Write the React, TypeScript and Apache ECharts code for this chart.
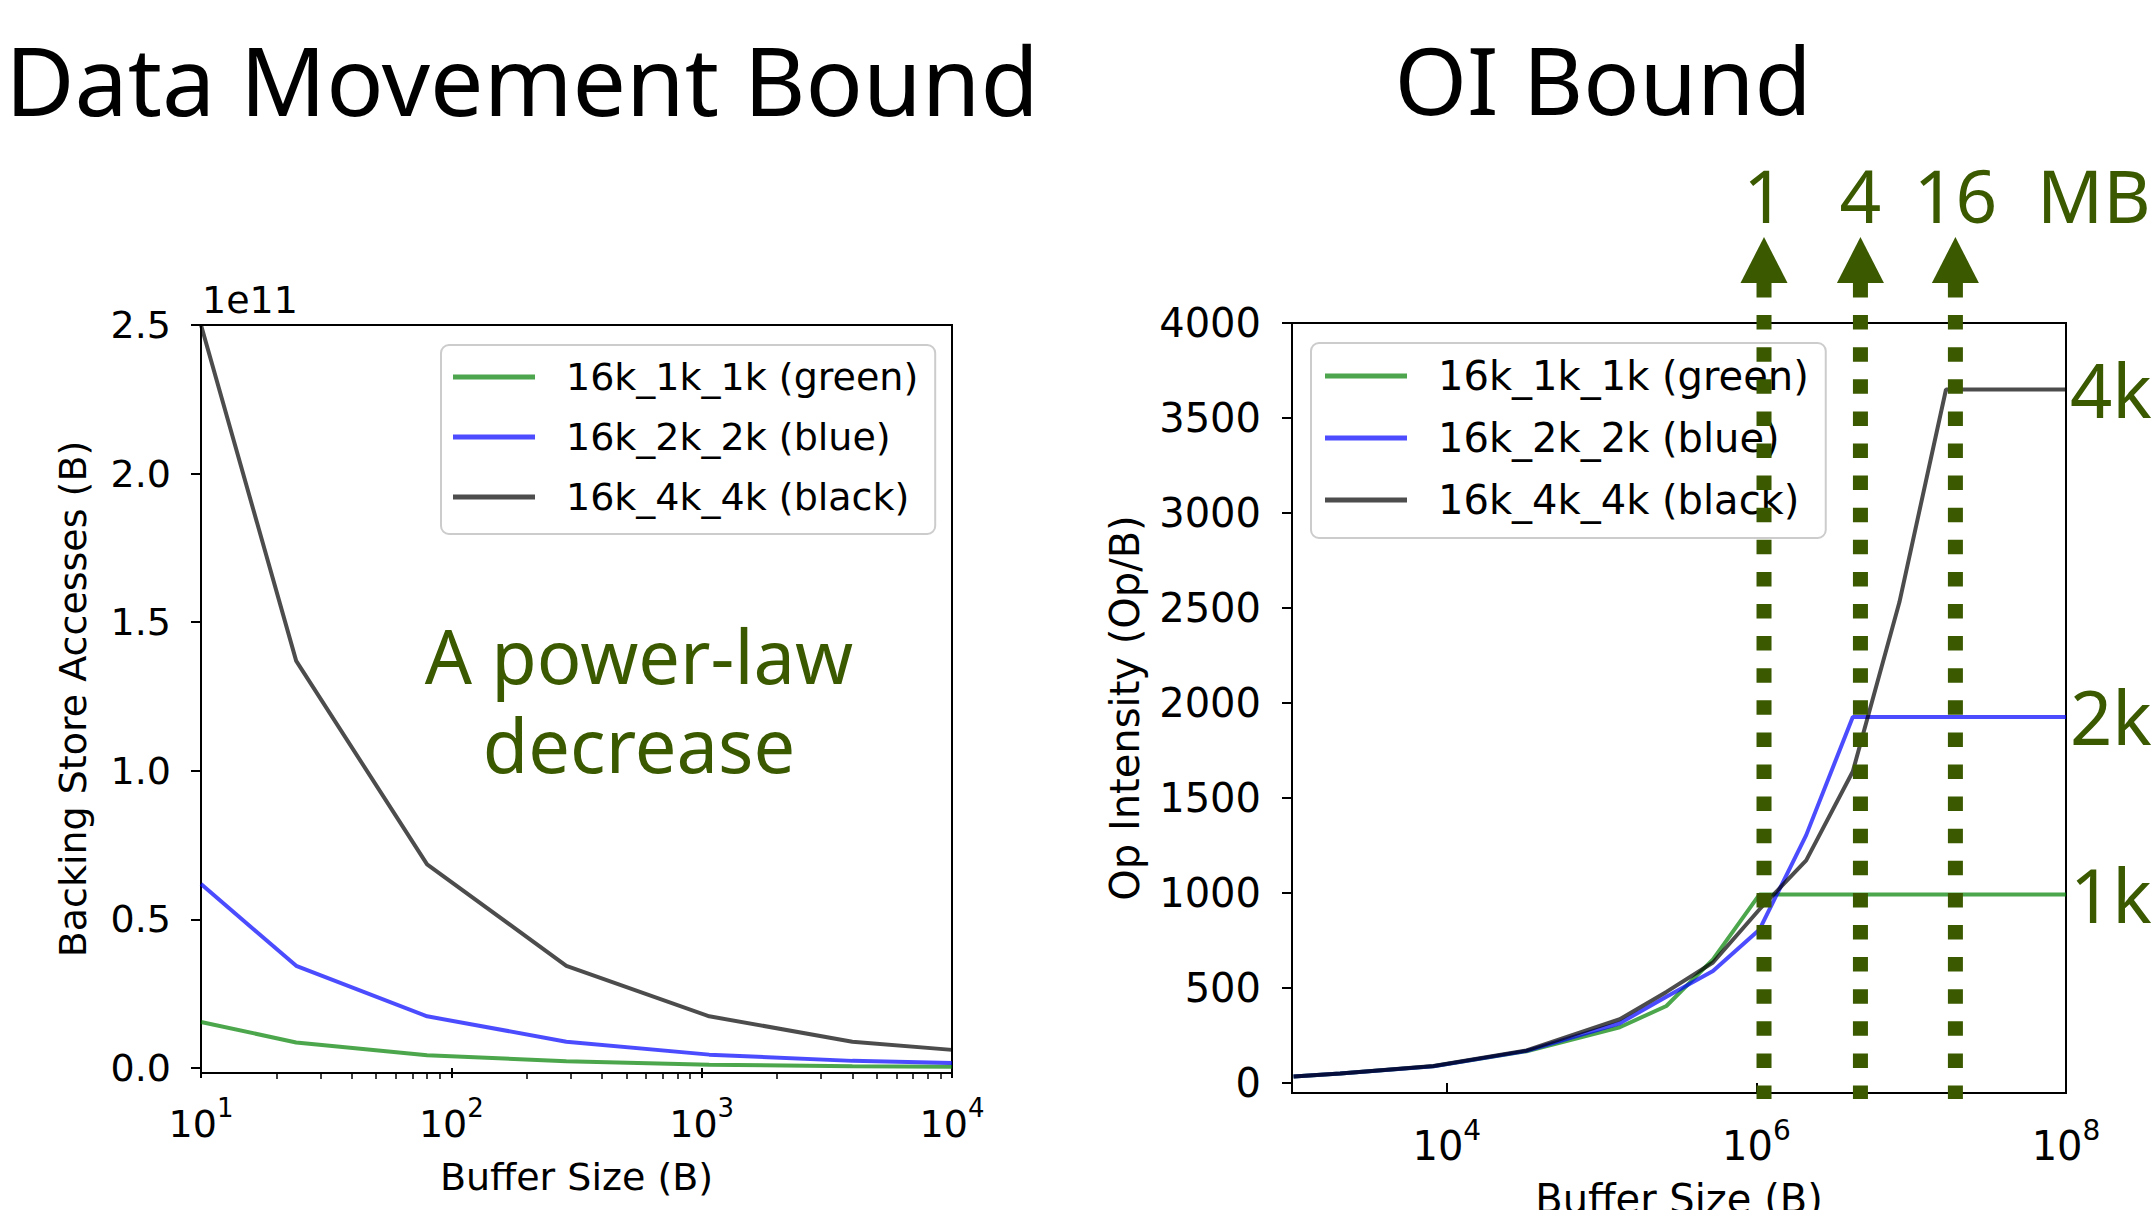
import React, { useEffect, useRef } from "react";
import * as echarts from "echarts";

// ---------- data ----------
const SERIES_NAMES = ["16k_1k_1k (green)", "16k_2k_2k (blue)", "16k_4k_4k (black)"];
const LINE_COLORS = ["rgba(0,128,0,0.7)", "rgba(0,0,255,0.7)", "rgba(0,0,0,0.7)"];
const LEGEND_COLORS = ["#4da64d", "#4d4dff", "#4d4d4d"];

// Left panel: Backing store accesses vs buffer size
const leftBufferSizes = [10, 24, 80, 288, 1072, 4000, 10000];
const leftGreen = [0.155e11, 0.086e11, 0.043e11, 0.023e11, 0.011e11, 0.006e11, 0.004e11];
const leftBlue = [0.619e11, 0.344e11, 0.174e11, 0.0886e11, 0.045e11, 0.024e11, 0.017e11];
const leftBlack = [2.5e11, 1.37e11, 0.685e11, 0.344e11, 0.174e11, 0.0886e11, 0.061e11];

const leftXTicks = [10, 100, 1000, 10000];
const leftXMinorTicks = [20, 30, 40, 50, 60, 70, 80, 90, 200, 300, 400, 500, 600, 700, 800, 900, 2000, 3000, 4000, 5000, 6000, 7000, 8000, 9000];
const leftYTicks = [0, 0.5e11, 1.0e11, 1.5e11, 2.0e11, 2.5e11];

// Right panel: operational intensity vs buffer size
const rightBufferSizes = [1024, 2048, 8192, 32768, 131072, 262144, 524288, 1048576, 2097152, 4194304, 8388608, 16777216, 100000000];
const rightGreen = [35, 50, 89, 168, 294, 406, 651, 993, 993, 993, 993, 993, 993];
const rightBlue = [35, 50, 89, 170, 315, 455, 590, 809, 1305, 1927, 1927, 1927, 1927];
const rightBlack = [35, 50, 90, 172, 336, 480, 635, 915, 1172, 1640, 2530, 3650, 3650];

const rightXTicks = [1e4, 1e6, 1e8];
const rightYTicks = [0, 500, 1000, 1500, 2000, 2500, 3000, 3500, 4000];

const capacityMarkers = [1.12e6, 4.7e6, 1.93e7];
const capacityLabels = ["1", "4", "16"];
const plateauLabels = ["1k", "2k", "4k"];

const OLIVE = "#3b5a00";
const AX_FONT = "DejaVu Sans";
const ANN_FONT = "Noto Sans";

const zip = (xs: number[], ys: number[]) => xs.map((x, i) => [x, ys[i]]);

const supFmt = (v: number) => {
  const e = Math.round(Math.log10(v));
  return `{b|10}{s|${e}}`;
};
const makeSupRich = (fs: number) => ({
  b: { fontSize: fs, fontFamily: AX_FONT, color: "#000", verticalAlign: "bottom", lineHeight: Math.round(fs * 1.26) },
  s: { fontSize: Math.round(fs * 0.69), fontFamily: AX_FONT, color: "#000", verticalAlign: "top", lineHeight: Math.round(fs * 0.69) },
});

const axisText = (fs: number) => ({ fontSize: fs, fontFamily: AX_FONT, color: "#000" });
const tickStyle = { color: "#000", width: 2 };

export default function App() {
  const ref = useRef<HTMLDivElement>(null);
  useEffect(() => {
    if (!ref.current) return;
    const chart = echarts.init(ref.current, undefined, { renderer: "svg" });

    const leftData = [leftGreen, leftBlue, leftBlack];
    const rightData = [rightGreen, rightBlue, rightBlack];

    const legendCommon = (fs: number, lh: number, padLeft: number) => ({
      orient: "vertical",
      data: SERIES_NAMES,
      icon: "rect",
      itemWidth: 82,
      itemHeight: 5,
      itemGap: 14,
      padding: [9, 17, 14, padLeft],
      backgroundColor: "rgba(255,255,255,0.8)",
      borderColor: "#cccccc",
      borderWidth: 2,
      borderRadius: 8,
      textStyle: { fontSize: fs, fontFamily: AX_FONT, color: "#000", lineHeight: lh, padding: [0, 0, 0, 26] },
      selectedMode: false,
    });

    const option: any = {
      animation: false,
      backgroundColor: "#ffffff",
      grid: [
        { left: 201, top: 325, width: 751, height: 748, show: true, borderColor: "#000", borderWidth: 2, backgroundColor: "transparent", containLabel: false, outerBoundsMode: "none" },
        { left: 1292, top: 323, width: 774, height: 770, show: true, borderColor: "#000", borderWidth: 2, backgroundColor: "transparent", containLabel: false, outerBoundsMode: "none" },
      ],
      legend: [
        { ...legendCommon(38, 46, 12), left: 441, top: 345 },
        { ...legendCommon(40, 48, 14), left: 1311, top: 343 },
      ],
      xAxis: [
        {
          type: "log", gridIndex: 0, position: "bottom", min: 10, max: 10000, logBase: 10,
          axisLine: { show: false }, splitLine: { show: false },
          axisTick: { show: true, length: 10, lineStyle: tickStyle, customValues: leftXTicks },
          axisLabel: { customValues: leftXTicks, formatter: supFmt, margin: 22, rich: makeSupRich(38) },
          name: "Buffer Size (B)", nameLocation: "middle", nameGap: 85, nameTextStyle: axisText(38),
        },
        {
          type: "log", gridIndex: 0, position: "bottom", offset: 0, min: 10, max: 10000, logBase: 10,
          axisLine: { show: false }, splitLine: { show: false },
          axisTick: { show: true, length: 6, lineStyle: { color: "#000", width: 1.5 }, customValues: leftXMinorTicks },
          axisLabel: { show: false },
        },
        {
          type: "log", gridIndex: 1, position: "bottom", min: 1000, max: 1e8, logBase: 10,
          axisLine: { show: false }, splitLine: { show: false },
          axisTick: { show: true, length: 10, lineStyle: tickStyle, customValues: rightXTicks },
          axisLabel: { customValues: rightXTicks, formatter: supFmt, margin: 23, rich: makeSupRich(40) },
          name: "Buffer Size (B)", nameLocation: "middle", nameGap: 86, nameTextStyle: axisText(40),
        },
      ],
      yAxis: [
        {
          type: "value", gridIndex: 0, min: -0.0168e11, max: 2.5e11,
          axisLine: { show: false }, splitLine: { show: false },
          axisTick: { show: true, length: 10, lineStyle: tickStyle, customValues: leftYTicks },
          axisLabel: { customValues: leftYTicks, formatter: (v: number) => (v / 1e11).toFixed(1), margin: 30, ...axisText(38) },
          name: "Backing Store Accesses (B)", nameLocation: "middle", nameGap: 109, nameTextStyle: axisText(38),
        },
        {
          type: "value", gridIndex: 1, min: -52, max: 4000,
          axisLine: { show: false }, splitLine: { show: false },
          axisTick: { show: true, length: 10, lineStyle: tickStyle, customValues: rightYTicks },
          axisLabel: { customValues: rightYTicks, formatter: (v: number) => String(v), margin: 31, ...axisText(40) },
          name: "Op Intensity (Op/B)", nameLocation: "middle", nameGap: 147, nameTextStyle: axisText(40),
        },
      ],
      series: [
        ...SERIES_NAMES.map((name, i) => ({
          name, type: "line", xAxisIndex: 0, yAxisIndex: 0,
          data: zip(leftBufferSizes, leftData[i]),
          symbol: "none", showSymbol: false,
          lineStyle: { color: LINE_COLORS[i], width: 4 },
          itemStyle: { color: LEGEND_COLORS[i] },
          z: 2,
        })),
        ...SERIES_NAMES.map((name, i) => ({
          name, type: "line", xAxisIndex: 2, yAxisIndex: 1,
          data: zip(rightBufferSizes, rightData[i]),
          symbol: "none", showSymbol: false,
          lineStyle: { color: LINE_COLORS[i], width: 4 },
          itemStyle: { color: LEGEND_COLORS[i] },
          endLabel: {
            show: true, formatter: plateauLabels[i], color: OLIVE, fontSize: 74,
            fontFamily: ANN_FONT, distance: 4,
          },
          z: 2,
        })),
        {
          type: "custom", xAxisIndex: 2, yAxisIndex: 1, silent: true, clip: false, z: 10,
          data: capacityMarkers.map((x, i) => [x, 0, i]),
          renderItem: (params: any, api: any) => {
            const x = api.value(0);
            const idx = api.value(2);
            const p0 = api.coord([x, 0]);
            const pTop = api.coord([x, 4000]);
            const px = p0[0];
            const base = pTop[1] - 40;
            const tip = pTop[1] - 86;
            const bottom = p0[1] + 16;
            return {
              type: "group",
              children: [
                {
                  type: "line",
                  shape: { x1: px, y1: base, x2: px, y2: bottom },
                  style: { stroke: OLIVE, lineWidth: 15, lineDash: [14.5, 17.6], lineCap: "butt" },
                },
                {
                  type: "polygon",
                  shape: { points: [[px, tip], [px - 23.5, base], [px + 23.5, base]] },
                  style: { fill: OLIVE },
                },
                {
                  type: "text",
                  x: px, y: pTop[1] - 129,
                  style: {
                    text: capacityLabels[idx], fill: OLIVE, fontSize: 73, fontFamily: ANN_FONT,
                    align: "center", verticalAlign: "middle", lineHeight: 76,
                  },
                },
              ],
            };
          },
        },
      ],
      graphic: [
        {
          type: "text", x: 522, y: 79,
          style: { text: "Data Movement Bound", fill: "#000", fontSize: 95, fontFamily: ANN_FONT, align: "center", verticalAlign: "middle", lineHeight: 100 },
        },
        {
          type: "text", x: 1603, y: 79,
          style: { text: "OI Bound", fill: "#000", fontSize: 93, fontFamily: ANN_FONT, align: "center", verticalAlign: "middle", lineHeight: 100 },
        },
        {
          type: "text", x: 202, y: 300,
          style: { text: "1e11", fill: "#000", fontSize: 38, fontFamily: AX_FONT, align: "left", verticalAlign: "middle" },
        },
        {
          type: "text", x: 639, y: 700,
          style: { text: "A power-law\ndecrease", fill: OLIVE, fontSize: 74, fontFamily: ANN_FONT, align: "center", verticalAlign: "middle", lineHeight: 89 },
        },
        {
          type: "text", x: 2037, y: 194,
          style: { text: "MB", fill: OLIVE, fontSize: 73, fontFamily: ANN_FONT, align: "left", verticalAlign: "middle", lineHeight: 76 },
        },
      ],
    };

    chart.setOption(option);
    return () => chart.dispose();
  }, []);

  return (
    <div
      ref={ref}
      style={{ position: "absolute", left: 0, top: 0, width: 2155, height: 1210, background: "#fff" }}
    />
  );
}
